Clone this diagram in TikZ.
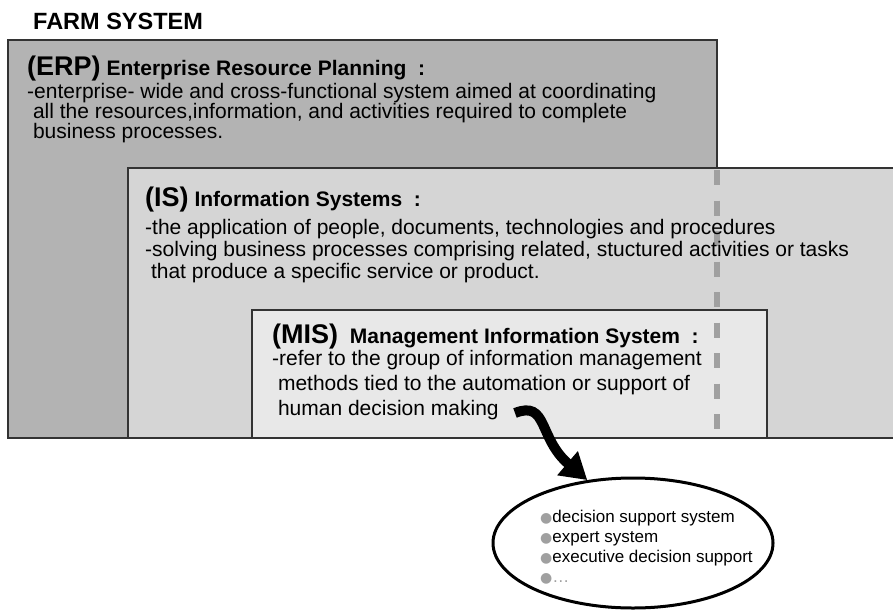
\documentclass[tikz,border=0pt]{standalone}
\usepackage{fontspec}
\setmainfont{Liberation Sans}
\newfontfamily\symfont{DejaVu Sans}
\usetikzlibrary{arrows.meta,shapes.geometric}

\definecolor{erpgray}{HTML}{B3B3B3}
\definecolor{isgray}{HTML}{D5D5D5}
\definecolor{misgray}{HTML}{E8E8E8}
\definecolor{dashgray}{HTML}{A0A0A0}
\definecolor{edgegray}{HTML}{333333}

\tikzset{
  box/.style={draw=edgegray,line width=2pt},
  head/.style={anchor=base west,inner sep=0pt,font=\fontsize{21}{21}\selectfont\bfseries},
  body/.style={anchor=north west,inner sep=0pt,align=left,font=\fontsize{21}{20}\selectfont},
}

\newcommand{\abbr}[1]{{\fontsize{27}{27}\selectfont #1}}
\newcommand{\bul}{{\symfont\fontsize{14}{14}\selectfont\textcolor{dashgray}{●}}}

\begin{document}
\begin{tikzpicture}[x=1pt,y=-1pt]
      \clip (0,0) rectangle (893,610);
      \fill[white] (0,0) rectangle (893,610);

      % layered boxes
      \filldraw[box,fill=erpgray] (8,40) rectangle (717,438);
      \filldraw[box,fill=isgray] (128,168) rectangle (900,438);
      \filldraw[box,fill=misgray] (252,310) rectangle (767,438);
      \draw[dashgray,line width=6pt,dash pattern=on 15pt off 15.5pt] (717,170) -- (717,438);
      \draw[box] (8,438) -- (893,438);

      \node[anchor=base west,inner sep=0pt,font=\fontsize{23.5}{24}\selectfont\bfseries] (1) at (33,30) {FARM SYSTEM};

      \node[head] (2) at (27,75) {\abbr{(ERP)} Enterprise Resource Planning\ \ :};
      \node[body] (3) at (27,83) {-enterprise- wide and cross-functional system aimed at coordinating\\
        \ all the resources,information, and activities required to complete\\
        \ business processes.};

      \node[head] (4) at (145,206) {\abbr{(IS)} Information Systems\ \ :};
      \node[body,font=\fontsize{21}{22}\selectfont] (5) at (145,219) {-the application of people, documents, technologies and procedures\\
        -solving business processes comprising related, stuctured activities or tasks\\
        \ that produce a specific service or product.};

      \node[head] (6) at (272,343) {\abbr{(MIS)}\ \ Management Information System\ \ :};
      \node[body,font=\fontsize{21}{25}\selectfont] (7) at (272,350) {-refer to the group of information management\\
        \ methods tied to the automation or support of\\
        \ human decision making};

      \node[draw,line width=3pt,ellipse,minimum width=280pt,minimum height=130pt] (8) at (633,543) {};
      \node[anchor=north west,inner sep=0pt,align=left,font=\fontsize{17}{20}\selectfont] (9) at (540,510) {\bul decision support system\\
        \bul expert system\\
        \bul executive decision support\\
        \bul \textcolor{dashgray}{\dots}};

      \coordinate (10) at (515,413);
      \draw[line width=10pt,-{Triangle[length=26pt,width=30pt]}] (10) .. controls (548,400) and (538,438) .. (8.126);
\end{tikzpicture}
\end{document}
